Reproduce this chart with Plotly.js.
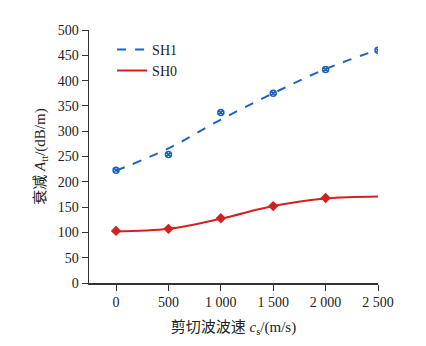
<!DOCTYPE html>
<html><head><meta charset="utf-8">
<script src="https://cdn.plot.ly/plotly-3.0.1.min.js"></script>
<style>html,body{margin:0;padding:0;background:#fff;}#c{width:426px;height:346px;}</style>
</head><body><div id="c"></div>
<script>
const speeds = [0, 500, 1000, 1500, 2000, 2500];
const sh1Measured = [223, 254, 337, 375, 422, 460];
const sh1Fit = [222, 266, 323, 375, 423, 461];
const sh0Measured = [103, 107, 128, 152, 168];
const sh0Speeds = [0, 500, 1000, 1500, 2000];
const sh0Fit = [102, 107, 127, 152, 167, 171];
const xTickVals = [0, 500, 1000, 1500, 2000, 2500];
const xTickText = ['0', '500', '1 000', '1 500', '2 000', '2 500'];

const blue = '#1f62c4', red = '#d42020';
const font = "'Liberation Serif','Times New Roman','Noto Sans CJK SC',serif";
const data = [
  {x: speeds, y: sh1Fit, mode: 'lines', name: 'SH1', line: {color: blue, dash: 'dash', width: 2, shape: 'spline'}},
  {x: speeds, y: sh0Fit, mode: 'lines', name: 'SH0', line: {color: red, width: 2, shape: 'spline'}},
  {x: speeds, y: sh1Measured, mode: 'markers', showlegend: false, marker: {symbol: 'circle-x-open', size: 6, color: blue, line: {width: 1.5, color: blue}}},
  {x: sh0Speeds, y: sh0Measured, mode: 'markers', showlegend: false, marker: {symbol: 'diamond', size: 8, color: red}}
];
const layout = {
  width: 426, height: 346,
  margin: {l: 89, r: 48, t: 30, b: 63},
  paper_bgcolor: '#fff', plot_bgcolor: '#fff',
  font: {family: font, size: 14, color: '#222'},
  showlegend: true,
  legend: {x: 0.08, y: 0.985, xanchor: 'left', yanchor: 'top', bgcolor: 'rgba(0,0,0,0)', font: {size: 14, family: font}, itemwidth: 30, tracegroupgap: 0},
  xaxis: {
    range: [-258, 2500], tickvals: xTickVals, ticktext: xTickText,
    showgrid: false, zeroline: false, showline: true, linecolor: '#333', linewidth: 1.5,
    ticks: 'outside', ticklen: 6, tickcolor: '#333',
    title: {text: '剪切波波速 <i>c</i><sub>s</sub>/(m/s)', font: {size: 15, family: font}, standoff: 12}
  },
  yaxis: {
    range: [0, 500], dtick: 50,
    showgrid: false, zeroline: false, showline: true, linecolor: '#333', linewidth: 1.5,
    ticks: 'outside', ticklen: 6, tickcolor: '#333',
    title: {text: '衰减 <i>A</i><sub>tt</sub>/(dB/m)', font: {size: 15, family: font}, standoff: 8}
  }
};
Plotly.newPlot('c', data, layout, {displayModeBar: false, staticPlot: true});
</script></body></html>
